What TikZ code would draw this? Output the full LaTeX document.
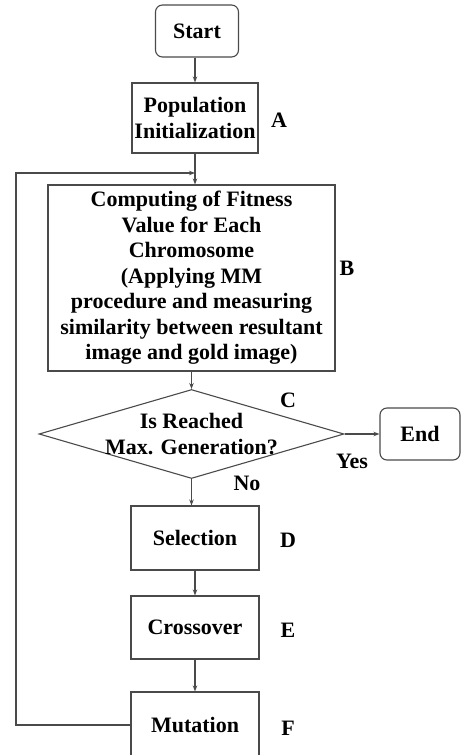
\documentclass[tikz,border=0pt]{standalone}
\usepackage{fontspec}
\setmainfont{Liberation Serif}
\usetikzlibrary{shapes.geometric,arrows.meta}
\definecolor{linegray}{HTML}{4A4A4A}

\begin{document}
\begin{tikzpicture}[x=1pt,y=1pt,
	font=\fontsize{22}{25.5}\selectfont\bfseries,
	box/.style={draw=linegray, line width=1.1pt, align=center, inner sep=0pt},
	term/.style={box, rounded corners=7pt},
	tag/.style={inner sep=0pt},
	flow/.style={draw=linegray, line width=1.1pt, -{Stealth[length=6pt,width=4.5pt]}}]
	
	\useasboundingbox (0,0) rectangle (462,-755);
	
	\node[term, minimum width=83pt, minimum height=52pt] (start) at (197,-31) {Start};
	\node[box, minimum width=126pt, minimum height=70pt] (popinit) at (195,-118) {Population\\Initialization};
	\node[box, minimum width=287pt, minimum height=186pt] (fitness) at (191.5,-278) {Computing of Fitness\\Value for Each\\Chromosome\\(Applying MM\\procedure and measuring\\similarity between resultant\\image and gold image)};
	\node[diamond, draw=linegray, line width=1.1pt, aspect=3.43, minimum width=305pt, minimum height=89pt, inner sep=-6pt, align=center] (cond) at (191.5,-434) {Is Reached\\Max. Generation?};
	\node[term, minimum width=80pt, minimum height=52pt] (end) at (420,-434) {End};
	\node[box, minimum width=128pt, minimum height=64pt] (select) at (195,-538) {Selection};
	\node[box, minimum width=128pt, minimum height=63pt] (cross) at (195,-627.5) {Crossover};
	\node[box, minimum width=128pt, minimum height=66pt] (mutate) at (195,-725) {Mutation};
	
	\node[tag] (lblA) at (279,-120) {A};
	\node[tag] (lblB) at (347,-268) {B};
	\node[tag] (lblC) at (288,-400) {C};
	\node[tag] (lblD) at (288,-540) {D};
	\node[tag] (lblE) at (288,-630) {E};
	\node[tag] (lblF) at (288,-728) {F};
	\node[tag] (yes) at (352,-461) {Yes};
	\node[tag] (no) at (247,-483) {No};
	
	\coordinate (join) at (195,-173);
	\coordinate (corner) at (16,-173);
	
	\draw[flow] (start.south -| popinit.north) -- (popinit.north);
	\draw[flow] (popinit.south) -- (popinit.south |- fitness.north);
	\draw[flow] (fitness) -- (cond);
	\draw[flow] (cond.east) -- (end.west);
	\draw[flow] (cond.south) -- (cond.south |- select.north);
	\draw[flow] (select) -- (cross);
	\draw[flow] (cross) -- (mutate);
	\draw[flow] (mutate.west) -| (corner) -- (join);
	
\end{tikzpicture}
\end{document}
